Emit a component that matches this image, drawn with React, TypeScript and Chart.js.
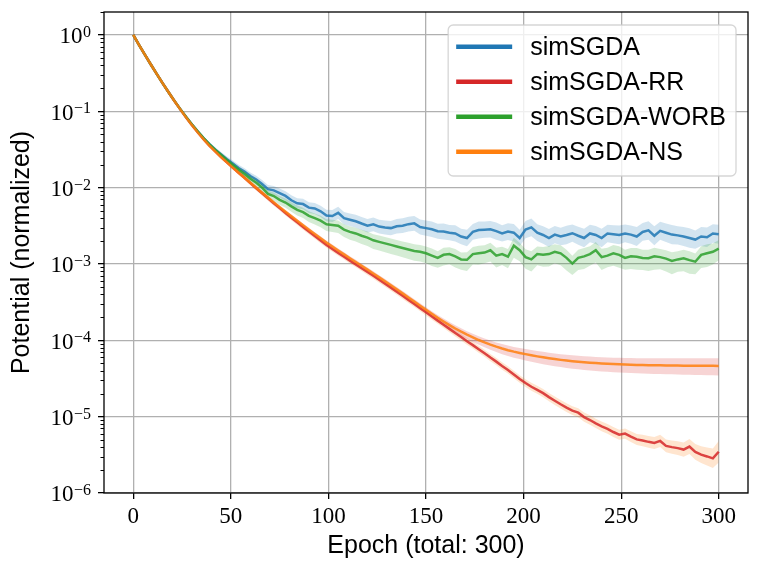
import React, { useEffect, useRef } from "react";
import { Chart, registerables } from "chart.js";

Chart.register(...registerables);

// ---- data (values are log10 of the normalized potential) ----
const EPOCHS = [
  0, 3, 6, 9, 12, 15, 18, 21, 24, 27, 30, 33, 36, 39, 42, 45, 48, 51, 54, 57,
  60, 63, 66, 69, 72, 75, 78, 81, 84, 87, 90, 93, 96, 99, 102, 105, 108, 111, 114, 117,
  120, 123, 126, 129, 132, 135, 138, 141, 144, 147, 150, 153, 156, 159, 162, 165, 168, 171, 174, 177,
  180, 183, 186, 189, 192, 195, 198, 201, 204, 207, 210, 213, 216, 219, 222, 225, 228, 231, 234, 237,
  240, 243, 246, 249, 252, 255, 258, 261, 264, 267, 270, 273, 276, 279, 282, 285, 288, 291, 294, 297, 300,
];

const X_TICKS = [0, 50, 100, 150, 200, 250, 300];
const Y_EXPONENTS = [-6, -5, -4, -3, -2, -1, 0];

const SIMSGDA_LOG = [
  0, -0.132, -0.261, -0.387, -0.51, -0.63, -0.747, -0.86, -0.968, -1.072, -1.17, -1.263, -1.35,
  -1.43, -1.502, -1.566, -1.628, -1.685, -1.742, -1.79, -1.848,
  -1.893, -1.952, -2.02, -2.035, -2.072, -2.108, -2.165, -2.205, -2.215, -2.262,
  -2.272, -2.31, -2.365, -2.372, -2.33, -2.4, -2.42, -2.44, -2.47, -2.498,
  -2.48, -2.51, -2.522, -2.53, -2.505, -2.498, -2.478, -2.468, -2.515, -2.53,
  -2.545, -2.57, -2.575, -2.59, -2.6, -2.64, -2.66, -2.58, -2.555, -2.55,
  -2.545, -2.57, -2.6, -2.575, -2.59, -2.66, -2.55, -2.52, -2.59, -2.62,
  -2.66, -2.615, -2.64, -2.62, -2.597, -2.63, -2.66, -2.6, -2.62, -2.66,
  -2.6, -2.61, -2.62, -2.6, -2.615, -2.64, -2.58, -2.56, -2.63, -2.565,
  -2.59, -2.615, -2.625, -2.64, -2.66, -2.68, -2.64, -2.65, -2.6, -2.61,
];
const SIMSGDA_SPREAD = [
  0, 0.002, 0.003, 0.004, 0.005, 0.006, 0.008, 0.01, 0.012, 0.015, 0.018, 0.021, 0.024,
  0.027, 0.03, 0.033, 0.036, 0.04, 0.042, 0.045, 0.048,
  0.05, 0.052, 0.055, 0.058, 0.06, 0.062, 0.064, 0.066, 0.068, 0.07,
  0.072, 0.074, 0.076, 0.078, 0.08, 0.082, 0.083, 0.085, 0.086, 0.088,
  0.09, 0.091, 0.092, 0.094, 0.095, 0.096, 0.097, 0.098, 0.099, 0.1,
  0.102, 0.098, 0.104, 0.1, 0.106, 0.102, 0.108, 0.104, 0.11, 0.105,
  0.108, 0.112, 0.106, 0.11, 0.114, 0.108, 0.112, 0.116, 0.11, 0.114,
  0.118, 0.112, 0.115, 0.12, 0.113, 0.117, 0.121, 0.114, 0.118, 0.122,
  0.115, 0.119, 0.123, 0.116, 0.12, 0.124, 0.117, 0.121, 0.125, 0.118,
  0.122, 0.126, 0.119, 0.123, 0.127, 0.12, 0.124, 0.128, 0.121, 0.125,
];

const RR_LOG = [
  0, -0.132, -0.261, -0.387, -0.51, -0.63, -0.747, -0.861, -0.971, -1.077, -1.178, -1.274, -1.364,
  -1.448, -1.526, -1.599, -1.669, -1.737, -1.804, -1.87, -1.94,
  -2.007, -2.073, -2.139, -2.204, -2.268, -2.331, -2.393, -2.455, -2.516, -2.576,
  -2.635, -2.692, -2.75, -2.803, -2.855, -2.905, -2.956, -3.006, -3.055, -3.105,
  -3.155, -3.207, -3.258, -3.31, -3.364, -3.417, -3.471, -3.524, -3.579, -3.633,
  -3.688, -3.742, -3.797, -3.85, -3.905, -3.957, -4.012, -4.063, -4.117, -4.17,
  -4.226, -4.279, -4.336, -4.388, -4.447, -4.506, -4.56, -4.608, -4.648, -4.692,
  -4.744, -4.791, -4.838, -4.882, -4.921, -4.948, -5.006, -5.044, -5.088, -5.127,
  -5.16, -5.201, -5.236, -5.222, -5.262, -5.298, -5.312, -5.33, -5.344, -5.318,
  -5.383, -5.399, -5.412, -5.431, -5.392, -5.462, -5.498, -5.521, -5.546, -5.459,
];
const RR_SPREAD = [
  0, 0.002, 0.003, 0.004, 0.005, 0.006, 0.008, 0.01, 0.012, 0.014, 0.016, 0.018, 0.02,
  0.022, 0.024, 0.025, 0.026, 0.027, 0.028, 0.029, 0.03,
  0.03, 0.031, 0.031, 0.032, 0.032, 0.033, 0.033, 0.034, 0.034, 0.035,
  0.035, 0.035, 0.036, 0.036, 0.036, 0.037, 0.037, 0.037, 0.038, 0.038,
  0.038, 0.039, 0.039, 0.039, 0.04, 0.04, 0.04, 0.041, 0.041, 0.041,
  0.042, 0.042, 0.043, 0.043, 0.044, 0.044, 0.045, 0.045, 0.046, 0.046,
  0.047, 0.047, 0.048, 0.048, 0.049, 0.049, 0.05, 0.051, 0.052, 0.053,
  0.054, 0.055, 0.056, 0.057, 0.058, 0.059, 0.06, 0.061, 0.062, 0.063,
  0.064, 0.065, 0.066, 0.068, 0.07, 0.072, 0.074, 0.076, 0.078, 0.08,
  0.083, 0.086, 0.09, 0.094, 0.098, 0.104, 0.11, 0.118, 0.128, 0.14,
];

const WORB_LOG = [
  0, -0.132, -0.261, -0.387, -0.51, -0.63, -0.747, -0.86, -0.968, -1.072, -1.17, -1.263, -1.35,
  -1.432, -1.506, -1.572, -1.64, -1.703, -1.765, -1.82, -1.883,
  -1.935, -2.0, -2.082, -2.11, -2.16, -2.195, -2.245, -2.29, -2.32, -2.37,
  -2.4, -2.432, -2.48, -2.49, -2.5, -2.55, -2.58, -2.6, -2.63, -2.655,
  -2.69, -2.71, -2.73, -2.75, -2.77, -2.79, -2.81, -2.83, -2.84, -2.86,
  -2.89, -2.92, -2.88, -2.87, -2.9, -2.94, -2.945, -2.87, -2.86, -2.85,
  -2.82, -2.89, -2.87, -2.905, -2.76, -2.82, -2.91, -2.94, -2.87, -2.88,
  -2.87, -2.84, -2.86, -2.92, -2.995, -2.92, -2.9, -2.87, -2.82, -2.91,
  -2.89, -2.86, -2.88, -2.92, -2.9, -2.905, -2.92, -2.925, -2.9, -2.91,
  -2.93, -2.96, -2.94, -2.925, -2.95, -2.97, -2.88, -2.86, -2.84, -2.8,
];
const WORB_UP = [
  0, 0.002, 0.003, 0.004, 0.005, 0.006, 0.008, 0.01, 0.012, 0.015, 0.018, 0.021, 0.024,
  0.026, 0.028, 0.03, 0.032, 0.034, 0.036, 0.038, 0.04,
  0.042, 0.044, 0.046, 0.048, 0.05, 0.052, 0.054, 0.056, 0.058, 0.06,
  0.062, 0.064, 0.066, 0.068, 0.07, 0.072, 0.074, 0.076, 0.078, 0.08,
  0.081, 0.082, 0.083, 0.084, 0.085, 0.086, 0.087, 0.088, 0.089, 0.09,
  0.092, 0.088, 0.094, 0.09, 0.096, 0.092, 0.098, 0.094, 0.1, 0.095,
  0.098, 0.102, 0.096, 0.1, 0.104, 0.098, 0.102, 0.106, 0.1, 0.104,
  0.106, 0.1, 0.104, 0.108, 0.102, 0.106, 0.11, 0.103, 0.107, 0.111,
  0.104, 0.108, 0.112, 0.105, 0.109, 0.113, 0.106, 0.11, 0.114, 0.107,
  0.111, 0.115, 0.108, 0.112, 0.116, 0.109, 0.113, 0.117, 0.11, 0.114,
];
const WORB_DOWN = [
  0, 0.002, 0.003, 0.004, 0.005, 0.006, 0.008, 0.01, 0.012, 0.015, 0.018, 0.021, 0.024,
  0.029, 0.032, 0.035, 0.038, 0.041, 0.044, 0.047, 0.05,
  0.053, 0.056, 0.059, 0.062, 0.065, 0.068, 0.071, 0.074, 0.077, 0.08,
  0.083, 0.086, 0.089, 0.092, 0.095, 0.098, 0.101, 0.104, 0.107, 0.11,
  0.112, 0.114, 0.116, 0.118, 0.12, 0.122, 0.124, 0.126, 0.128, 0.13,
  0.135, 0.128, 0.14, 0.132, 0.145, 0.136, 0.148, 0.138, 0.15, 0.14,
  0.146, 0.155, 0.142, 0.15, 0.158, 0.145, 0.152, 0.16, 0.147, 0.155,
  0.162, 0.149, 0.157, 0.164, 0.15, 0.158, 0.166, 0.152, 0.16, 0.168,
  0.154, 0.162, 0.17, 0.156, 0.164, 0.172, 0.158, 0.166, 0.174, 0.16,
  0.168, 0.176, 0.162, 0.17, 0.178, 0.164, 0.172, 0.18, 0.166, 0.15,
];

const NS_LOG = [
  0, -0.132, -0.261, -0.387, -0.51, -0.63, -0.747, -0.861, -0.971, -1.077, -1.178, -1.274, -1.364,
  -1.448, -1.526, -1.599, -1.669, -1.737, -1.804, -1.87, -1.936,
  -2.001, -2.066, -2.13, -2.193, -2.255, -2.316, -2.376, -2.435, -2.493, -2.551,
  -2.608, -2.664, -2.72, -2.772, -2.823, -2.874, -2.924, -2.974, -3.024, -3.074,
  -3.124, -3.175, -3.227, -3.279, -3.332, -3.385, -3.438, -3.492, -3.546, -3.6,
  -3.653, -3.704, -3.753, -3.8, -3.845, -3.887, -3.926, -3.962, -3.996, -4.027,
  -4.056, -4.083, -4.107, -4.129, -4.148, -4.165, -4.181, -4.196, -4.21, -4.223,
  -4.235, -4.246, -4.256, -4.265, -4.273, -4.28, -4.287, -4.293, -4.298, -4.303,
  -4.307, -4.311, -4.314, -4.317, -4.32, -4.322, -4.324, -4.326, -4.327, -4.328,
  -4.329, -4.33, -4.331, -4.332, -4.332, -4.333, -4.333, -4.334, -4.334, -4.335,
];
const NS_UP = [
  0, 0.002, 0.003, 0.004, 0.005, 0.006, 0.007, 0.008, 0.009, 0.01, 0.011, 0.012, 0.013,
  0.014, 0.015, 0.016, 0.017, 0.018, 0.019, 0.02, 0.02,
  0.021, 0.021, 0.022, 0.022, 0.023, 0.023, 0.024, 0.024, 0.025, 0.025,
  0.025, 0.026, 0.026, 0.026, 0.027, 0.027, 0.027, 0.028, 0.028, 0.028,
  0.029, 0.029, 0.029, 0.03, 0.03, 0.03, 0.031, 0.031, 0.031, 0.032,
  0.034, 0.036, 0.038, 0.04, 0.042, 0.044, 0.046, 0.048, 0.05, 0.052,
  0.054, 0.056, 0.058, 0.06, 0.062, 0.064, 0.066, 0.068, 0.07, 0.072,
  0.073, 0.074, 0.075, 0.076, 0.077, 0.078, 0.079, 0.08, 0.081, 0.082,
  0.083, 0.084, 0.085, 0.086, 0.087, 0.088, 0.089, 0.09, 0.091, 0.092,
  0.093, 0.094, 0.095, 0.096, 0.097, 0.098, 0.099, 0.1, 0.1, 0.1,
];
const NS_DOWN = [
  0, 0.002, 0.003, 0.004, 0.005, 0.006, 0.007, 0.008, 0.009, 0.01, 0.011, 0.012, 0.013,
  0.014, 0.015, 0.016, 0.017, 0.018, 0.019, 0.02, 0.021,
  0.022, 0.022, 0.023, 0.023, 0.024, 0.024, 0.025, 0.025, 0.026, 0.026,
  0.026, 0.027, 0.027, 0.028, 0.028, 0.028, 0.029, 0.029, 0.03, 0.03,
  0.03, 0.031, 0.031, 0.032, 0.032, 0.033, 0.033, 0.034, 0.034, 0.035,
  0.038, 0.041, 0.044, 0.047, 0.05, 0.053, 0.056, 0.059, 0.062, 0.065,
  0.068, 0.071, 0.074, 0.077, 0.079, 0.081, 0.083, 0.085, 0.087, 0.089,
  0.091, 0.093, 0.095, 0.097, 0.099, 0.1, 0.101, 0.102, 0.103, 0.104,
  0.105, 0.106, 0.107, 0.108, 0.109, 0.11, 0.111, 0.112, 0.113, 0.114,
  0.115, 0.116, 0.117, 0.118, 0.119, 0.12, 0.121, 0.122, 0.124, 0.126,
];

const SERIES = [
  { label: "simSGDA", mean: SIMSGDA_LOG, up: SIMSGDA_SPREAD, down: SIMSGDA_SPREAD, line: "rgba(31,119,180,0.85)", legend: "#1f77b4", band: "rgba(31,119,180,0.2)" },
  { label: "simSGDA-RR", mean: RR_LOG, up: RR_SPREAD, down: RR_SPREAD, line: "rgba(214,39,40,0.85)", legend: "#d62728", band: "rgba(255,127,14,0.2)" },
  { label: "simSGDA-WORB", mean: WORB_LOG, up: WORB_UP, down: WORB_DOWN, line: "rgba(44,160,44,0.85)", legend: "#2ca02c", band: "rgba(44,160,44,0.2)" },
  { label: "simSGDA-NS", mean: NS_LOG, up: NS_UP, down: NS_DOWN, line: "rgba(255,127,14,0.85)", legend: "#ff7f0e", band: "rgba(214,39,40,0.2)" },
];

const SANS = "'Liberation Sans', Arial, sans-serif";
const SERIF = "'Liberation Serif', 'DejaVu Serif', serif";

function pts(logs: number[], offs?: number[], sign = 0) {
  return EPOCHS.map((e, i) => ({ x: e, y: Math.pow(10, logs[i] + (offs ? sign * offs[i] : 0)) }));
}

const decorPlugin = {
  id: "decor",
  afterDatasetsDraw(chart: any) {
    const { ctx, chartArea: a, scales } = chart;
    const ys = scales.y;
    ctx.save();
    // frame (spines)
    ctx.strokeStyle = "#000";
    ctx.lineWidth = 1.3;
    ctx.strokeRect(a.left, a.top, a.right - a.left, a.bottom - a.top);
    // minor ticks on the log axis
    ctx.lineWidth = 1.0;
    ctx.beginPath();
    for (let k = -6; k <= 0; k++) {
      for (let m = 2; m <= 9; m++) {
        const v = m * Math.pow(10, k);
        if (v < ys.min || v > ys.max) continue;
        const py = Math.round(ys.getPixelForValue(v)) + 0.5;
        ctx.moveTo(a.left - 3.5, py);
        ctx.lineTo(a.left, py);
      }
    }
    ctx.stroke();
    // y tick labels 10^k
    ctx.fillStyle = "#000";
    const xr = a.left - 13;
    for (const e of Y_EXPONENTS) {
      const py = ys.getPixelForValue(Math.pow(10, e));
      const sup = e < 0 ? "\u2212" + String(-e) : String(e);
      ctx.font = `16px ${SERIF}`;
      ctx.textAlign = "right";
      ctx.textBaseline = "alphabetic";
      const sw = ctx.measureText(sup).width;
      ctx.fillText(sup, xr, py + 2);
      ctx.font = `23px ${SERIF}`;
      ctx.fillText("10", xr - sw - 0.5, py + 8.3);
    }
    // legend
    const mains = chart.data.datasets.filter((d: any) => d.isMain);
    ctx.font = `25px ${SANS}`;
    let tw = 0;
    for (const d of mains) tw = Math.max(tw, ctx.measureText(d.label).width);
    const hl = 56, gap = 18;
    const bw = 8 + hl + gap + tw + 10;
    const bh = 151;
    const bx = a.right - 12 - bw;
    const by = a.top + 13;
    ctx.beginPath();
    (ctx as any).roundRect(bx, by, bw, bh, 5);
    ctx.fillStyle = "rgba(255,255,255,0.8)";
    ctx.fill();
    ctx.strokeStyle = "rgba(204,204,204,0.8)";
    ctx.lineWidth = 1.3;
    ctx.stroke();
    mains.forEach((d: any, i: number) => {
      const cy = by + 21.7 + i * 35;
      ctx.strokeStyle = d.legendColor;
      ctx.lineWidth = 4.5;
      ctx.lineCap = "butt";
      ctx.beginPath();
      ctx.moveTo(bx + 8, cy);
      ctx.lineTo(bx + 8 + hl, cy);
      ctx.stroke();
      ctx.fillStyle = "#000";
      ctx.textAlign = "left";
      ctx.textBaseline = "middle";
      ctx.fillText(d.label, bx + 8 + hl + gap, cy + 1);
    });
    ctx.restore();
  },
};

export default function App() {
  const ref = useRef<HTMLCanvasElement | null>(null);
  useEffect(() => {
    if (!ref.current) return;
    const datasets: any[] = [];
    SERIES.forEach((s, k) => {
      datasets.push({
        label: s.label,
        isMain: true,
        legendColor: s.legend,
        data: pts(s.mean),
        borderColor: s.line,
        borderWidth: 2.5,
        pointRadius: 0,
        fill: false,
        order: 7 - 2 * k,
      });
      datasets.push({
        label: s.label + " lower",
        data: pts(s.mean, s.down, -1),
        borderColor: "transparent",
        borderWidth: 0,
        pointRadius: 0,
        fill: false,
        order: 8 - 2 * k,
      });
      datasets.push({
        label: s.label + " upper",
        data: pts(s.mean, s.up, 1),
        borderColor: "transparent",
        borderWidth: 0,
        pointRadius: 0,
        backgroundColor: s.band,
        fill: "-1",
        order: 8 - 2 * k,
      });
    });
    const chart = new Chart(ref.current, {
      type: "line",
      data: { datasets },
      plugins: [decorPlugin],
      options: {
        animation: false,
        responsive: false,
        events: [],
        layout: { padding: { top: 12, right: 14, left: 0, bottom: 0 } },
        plugins: { legend: { display: false }, tooltip: { enabled: false } },
        elements: { line: { tension: 0 }, point: { radius: 0 } },
        scales: {
          x: {
            type: "linear",
            min: -15,
            max: 315,
            afterBuildTicks: (s: any) => {
              s.ticks = X_TICKS.map((v) => ({ value: v }));
            },
            afterFit: (s: any) => {
              s.height = 80;
            },
            border: { display: false },
            grid: { color: "#b0b0b0", lineWidth: 1.3, tickColor: "#000", tickLength: 6, tickWidth: 1.3 },
            ticks: { color: "#000", font: { family: SERIF, size: 23 }, padding: 4, maxRotation: 0, autoSkip: false },
            title: {
              display: true,
              text: "Epoch (total: 300)",
              color: "#000",
              font: { family: SANS, size: 25 },
              padding: { top: 0, bottom: 12 },
            },
          },
          y: {
            type: "logarithmic",
            min: 1e-6,
            max: 2,
            afterBuildTicks: (s: any) => {
              s.ticks = Y_EXPONENTS.map((e) => ({ value: Math.pow(10, e), major: true }));
            },
            afterFit: (s: any) => {
              s.width = 104;
            },
            border: { display: false },
            grid: { color: "#b0b0b0", lineWidth: 1.3, tickColor: "#000", tickLength: 6, tickWidth: 1.3 },
            ticks: { display: false },
            title: {
              display: true,
              text: "Potential (normalized)",
              color: "#000",
              font: { family: SANS, size: 25 },
              padding: { top: 7, bottom: 0 },
            },
          },
        },
      } as any,
    });
    return () => chart.destroy();
  }, []);
  return (
    <div style={{ position: "fixed", left: 0, top: 0, width: 762, height: 573, background: "#fff" }}>
      <canvas ref={ref} width={762} height={573} style={{ display: "block" }} />
    </div>
  );
}
